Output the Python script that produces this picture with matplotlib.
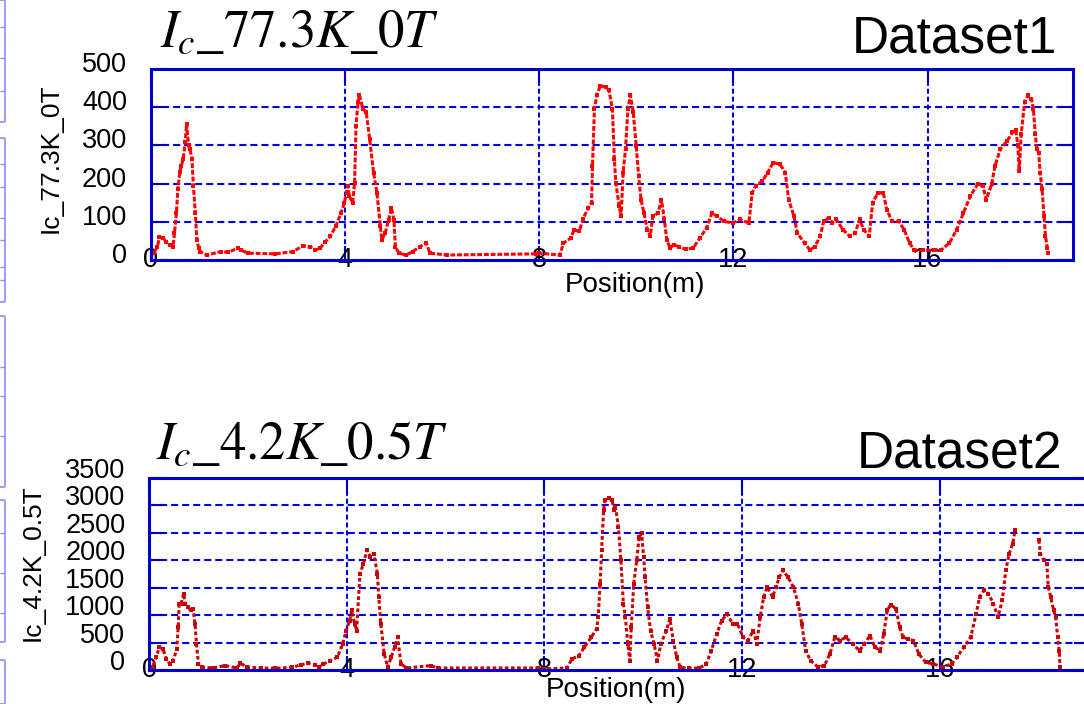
import numpy as np
import matplotlib

matplotlib.use("Agg")
import matplotlib.pyplot as plt
from matplotlib.transforms import ScaledTranslation

plt.rcParams["mathtext.fontset"] = "stix"
plt.rcParams["font.family"] = ["Liberation Sans", "DejaVu Sans"]

# Ic at 77.3 K, 0 T along the tape (position in m, current in A)
pos_77k = [
    0.00, 0.07, 0.14, 0.18, 0.25, 0.32, 0.39, 0.46, 0.49, 0.53, 0.56, 0.60, 0.63, 0.67,
    0.71, 0.74, 0.78, 0.81, 0.85, 0.88, 0.92, 0.95, 0.99, 1.02, 1.16, 1.45, 1.59, 1.80,
    1.87, 2.01, 2.57, 2.93, 3.14, 3.28, 3.39, 3.49, 3.60, 3.70, 3.81, 3.92, 3.99, 4.06,
    4.09, 4.16, 4.20, 4.23, 4.27, 4.30, 4.37, 4.44, 4.51, 4.59, 4.66, 4.73, 4.76, 4.83,
    4.90, 4.96, 5.01, 5.04, 5.11, 5.26, 5.40, 5.54, 5.68, 5.75, 6.10, 7.94,
    8.00, 8.43, 8.50, 8.65, 8.72, 8.83, 8.90, 9.01, 9.08, 9.10, 9.14, 9.19, 9.26, 9.37,
    9.44, 9.51, 9.55, 9.58, 9.65, 9.69, 9.73, 9.78, 9.83, 9.88, 9.94, 10.00, 10.05, 10.10,
    10.16, 10.23, 10.29, 10.34, 10.45, 10.52, 10.58, 10.63, 10.70, 10.77, 10.88, 11.02,
    11.17, 11.31, 11.45, 11.56, 11.67, 11.81, 11.99, 12.14, 12.32, 12.39, 12.46, 12.60,
    12.71, 12.82, 12.96, 13.07, 13.14, 13.25, 13.32, 13.47, 13.58, 13.68, 13.79, 13.86,
    13.97, 14.04, 14.12, 14.26, 14.40, 14.51, 14.60, 14.69, 14.80, 14.87, 14.98, 15.09,
    15.16, 15.27, 15.41, 15.52, 15.63, 15.73, 15.91, 16.13, 16.27, 16.45, 16.60, 16.74,
    16.88, 17.03, 17.14, 17.21, 17.32, 17.39, 17.50, 17.64, 17.75, 17.82, 17.86, 17.89,
    17.93, 18.00, 18.07, 18.14, 18.18, 18.22, 18.25, 18.29, 18.32, 18.36, 18.40, 18.43,
    18.47, 18.49,
]
ic_77k = [
    10, 20, 35, 60, 57, 48, 40, 35, 70, 123, 185, 230, 246, 264,
    308, 356, 300, 290, 264, 194, 123, 53, 31, 22, 13, 22, 20, 31,
    25, 18, 16, 22, 37, 35, 26, 31, 48, 62, 88, 123, 150, 194,
    167, 150, 202, 352, 413, 431, 396, 387, 317, 229, 176, 88, 53, 70,
    105, 136, 105, 35, 18, 13, 22, 35, 44, 18, 13, 16,
    18, 13, 44, 57, 79, 75, 106, 136, 150, 246, 396, 431, 456, 453,
    444, 396, 264, 202, 141, 114, 229, 290, 396, 431, 387, 299, 220, 158,
    123, 79, 62, 114, 123, 158, 106, 53, 31, 40, 35, 28,
    31, 57, 84, 123, 114, 101, 97, 106, 97, 176, 194, 207,
    229, 255, 251, 229, 158, 114, 70, 44, 26, 35, 62, 101,
    110, 97, 106, 79, 62, 70, 106, 79, 62, 150, 176, 176,
    132, 101, 101, 79, 44, 26, 25, 26, 25, 44, 79, 123,
    167, 198, 194, 158, 198, 246, 290, 312, 334, 339, 300, 233,
    330, 413, 431, 422, 396, 330, 290, 281, 229, 185, 114, 62,
    31, 18,
]

# Ic at 4.2 K, 0.5 T (NaN marks the stretch with no readings)
pos_4k = [
    0.00, 0.07, 0.14, 0.21, 0.28, 0.35, 0.42, 0.49, 0.56, 0.59, 0.61, 0.65, 0.70, 0.73,
    0.79, 0.84, 0.89, 0.93, 0.96, 1.00, 1.08, 1.29, 1.54, 1.78, 1.85, 1.99, 2.27, 2.55,
    2.90, 3.08, 3.22, 3.36, 3.43, 3.53, 3.67, 3.81, 3.92, 3.99, 4.06, 4.10, 4.16, 4.20,
    4.27, 4.34, 4.41, 4.48, 4.55, 4.62, 4.65, 4.69, 4.76, 4.83, 4.90, 4.97, 5.03, 5.10,
    5.21, 5.70, 5.84, 7.87,
    8.00, 8.46, 8.56, 8.70, 8.81, 8.95, 9.06, 9.09, 9.13, 9.16, 9.20, 9.23, 9.30, 9.37,
    9.41, 9.44, 9.50, 9.55, 9.60, 9.64, 9.69, 9.73, 9.76, 9.81, 9.87, 9.92, 9.97, 10.01,
    10.04, 10.09, 10.15, 10.22, 10.29, 10.36, 10.47, 10.54, 10.61, 10.68, 10.75, 10.92,
    11.14, 11.28, 11.38, 11.49, 11.59, 11.70, 11.81, 11.91, 12.02, 12.12, 12.23, 12.30,
    12.37, 12.44, 12.51, 12.62, 12.69, 12.76, 12.83, 12.93, 13.04, 13.14, 13.21, 13.29,
    13.39, 13.53, 13.67, 13.78, 13.88, 13.99, 14.10, 14.24, 14.38, 14.48, 14.59, 14.69,
    14.80, 14.87, 14.94, 15.01, 15.12, 15.19, 15.26, 15.36, 15.47, 15.58, 15.72, 15.86,
    16.07, 16.25, 16.35, 16.49, 16.63, 16.74, 16.81, 16.90, 16.99, 17.09, 17.18, 17.27,
    17.34, 17.41, 17.48, 17.53, 17.77, 18.01, 18.04, 18.11, 18.17, 18.20, 18.25, 18.31,
    18.35, 18.39, 18.42, 18.44,
]
ic_4k = [
    18, 50, 230, 414, 383, 200, 110, 170, 383, 779, 1205, 1205, 1388, 1205,
    1144, 1083, 1114, 840, 475, 110, 49, 37, 79, 37, 122, 49, 37, 30,
    49, 97, 122, 97, 49, 110, 170, 231, 475, 718, 900, 1083, 840, 718,
    1753, 1935, 2179, 2057, 2118, 1753, 1327, 840, 292, 49, 231, 414, 596, 110,
    37, 79, 37, 37,
    18, 37, 200, 262, 414, 596, 749, 962, 1570, 2179, 2909, 3092, 3122, 3092,
    2909, 2970, 2605, 1996, 1205, 962, 475, 170, 779, 1570, 1996, 2422, 2483, 2057,
    1692, 1144, 718, 475, 170, 475, 718, 931, 536, 231, 49, 30,
    37, 110, 353, 657, 900, 1022, 840, 840, 596, 536, 718, 475,
    962, 1327, 1510, 1327, 1510, 1692, 1814, 1692, 1510, 1205, 840, 353,
    170, 61, 79, 292, 596, 536, 596, 475, 353, 475, 627, 414,
    353, 657, 1083, 1187, 1114, 779, 596, 566, 536, 292, 140, 110,
    61, 110, 231, 414, 596, 1022, 1327, 1449, 1388, 1205, 962, 1266,
    1814, 2118, 2300, 2544, np.nan, 2361, 2118, 1996, 1935, 1510, 1327, 1083,
    962, 596, 353, 49,
]

x_ticks = [0, 4, 8, 12, 16]
y_ticks_77k = [0, 100, 200, 300, 400, 500]
y_ticks_4k = [0, 500, 1000, 1500, 2000, 2500, 3000, 3500]

FRAME = "#0000c8"
GRID = "#0000e6"


def style_axes(ax, yticks, label_lift_px, ylabel, ylabel_xy, xlabel_xy):
    ax.set_xlim(0, 19)
    ax.set_ylim(yticks[0], yticks[-1])
    ax.set_xticks(x_ticks)
    ax.set_yticks(yticks)
    for spine in ax.spines.values():
        spine.set_color(FRAME)
        spine.set_linewidth(2.2)
    ax.tick_params(axis="both", direction="in", colors=FRAME, width=1.5, length=10,
                   labelcolor="black", labelsize=19.5)
    ax.tick_params(axis="y", left=True, right=True, pad=17)
    ax.tick_params(axis="x", bottom=True, top=True, pad=-9.5)
    ax.yaxis.grid(True, color=GRID, linewidth=1.5, linestyle=(0, (3.4, 1.9)))
    ax.xaxis.grid(True, color=GRID, linewidth=1.5, linestyle=(0, (2.4, 1.4)))
    ax.set_axisbelow(True)
    lift = ScaledTranslation(0, label_lift_px / 100, ax.figure.dpi_scale_trans)
    for lab in ax.get_yticklabels():
        lab.set_transform(lab.get_transform() + lift)
    ax.set_ylabel(ylabel, fontsize=19, va="center")
    ax.yaxis.set_label_coords(*ylabel_xy)
    ax.set_xlabel("Position(m)", fontsize=20, va="center")
    ax.xaxis.set_label_coords(*xlabel_xy)


fig = plt.figure(figsize=(10.84, 7.04), dpi=100)

ax1 = fig.add_axes([0.139, 0.6307, 0.851, 0.2713])
ax1.plot(pos_77k, ic_77k, color="#ff0000", linewidth=2.2, linestyle=(0, (1.6, 0.6)),
         marker="s", markersize=3, markeredgewidth=0)
style_axes(ax1, y_ticks_77k, 7, "Ic_77.3K_0T", (-0.108, 0.534), (0.525, -0.131))

ax2 = fig.add_axes([0.1375, 0.0483, 0.866, 0.2734])
ax2.plot(pos_4k, ic_4k, color="#cc0000", linewidth=2.2, linestyle=(0, (1.2, 0.8)),
         marker="s", markersize=3, markeredgewidth=0)
style_axes(ax2, y_ticks_4k, 10, "Ic_4.2K_0.5T", (-0.1236, 0.557), (0.4975, -0.104))

fig.text(0.148, 0.933, r"$I_c\_77.3K\_0T$", fontsize=38, ha="left", va="baseline")
fig.text(0.975, 0.926, "Dataset1", fontsize=37, ha="right", va="baseline")
fig.text(0.144, 0.349, r"$I_c\_4.2K\_0.5T$", fontsize=38, ha="left", va="baseline")
fig.text(0.980, 0.335, "Dataset2", fontsize=37, ha="right", va="baseline")

# faint frame remnants along the left edge
strip = fig.add_axes([0, 0, 6 / 1084, 1])
strip.set_xlim(0, 6)
strip.set_ylim(704, 0)
strip.axis("off")
edge_boxes = [(0, 122), (138, 302), (316, 487), (500, 642), (660, 704)]
edge_ticks = [27, 58, 91, 164, 187, 218, 240, 267, 280, 367, 396, 436, 533, 573, 613]
for top, bottom in edge_boxes:
    strip.vlines(4.5, top, bottom, color="#8c8cff", linewidth=1.2)
    strip.hlines([top, bottom], 0, 4.5, color="#8c8cff", linewidth=1.2)
strip.hlines(edge_ticks, 0, 4.5, color="#8c8cff", linewidth=1.0)

fig.savefig("out.png", dpi=100)
